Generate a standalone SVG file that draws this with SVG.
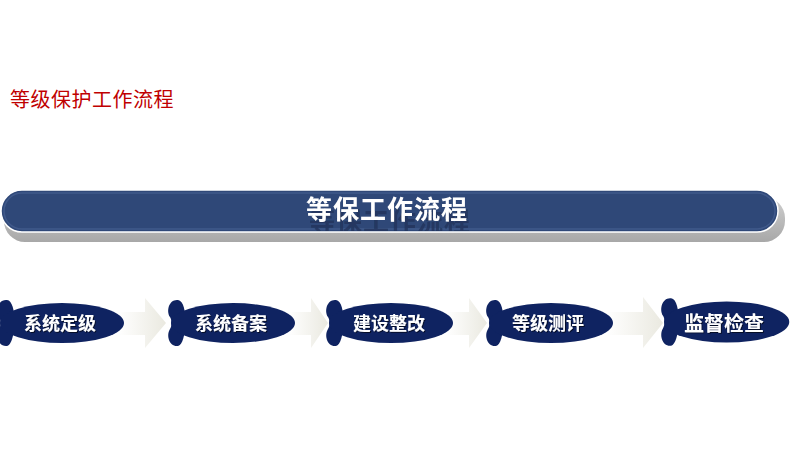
<svg xmlns="http://www.w3.org/2000/svg" xmlns:xlink="http://www.w3.org/1999/xlink" width="791" height="450" viewBox="0 0 791 450">
<defs>
<style>
.cjk{font-family:"Noto Sans CJK SC","Noto Sans",sans-serif;}
.node{fill:#0F2361;}
.ntext{font-family:"Noto Sans CJK SC","Noto Sans",sans-serif;font-weight:bold;font-size:18px;fill:#FFFFFF;text-anchor:middle;filter:url(#txtShadow);}
.arrow{fill:url(#arrowGrad);}
</style>
<linearGradient id="arrowGrad" x1="0" y1="0" x2="1" y2="0">
<stop offset="0" stop-color="#FFFFFF"/>
<stop offset="1" stop-color="#EAE9E0"/>
</linearGradient>
<linearGradient id="shadowGrad" x1="0" y1="0" x2="0" y2="1">
<stop offset="0" stop-color="#CFCFCF"/>
<stop offset="1" stop-color="#A8A8A8"/>
</linearGradient>
<filter id="txtShadow" x="-10%" y="-20%" width="120%" height="150%">
<feOffset in="SourceAlpha" dx="1" dy="1" result="off"/>
<feFlood flood-color="#000000" flood-opacity="0.6"/>
<feComposite in2="off" operator="in" result="sh"/>
<feMerge><feMergeNode in="sh"/><feMergeNode in="SourceGraphic"/></feMerge>
</filter>
<filter id="titleReflect" filterUnits="userSpaceOnUse" x="280" y="190" width="230" height="41">
<feOffset in="SourceAlpha" dx="3" dy="12" result="off"/>
<feFlood flood-color="#1F3359" flood-opacity="0.75"/>
<feComposite in2="off" operator="in" result="sh"/>
<feMerge><feMergeNode in="sh"/><feMergeNode in="SourceGraphic"/></feMerge>
</filter>
<g id="blob">
<path d="M11,-23 C2,-24 -1,-12 3,-6 C5,-3 5,3 3,6 C-1,12 2,24 11,23 C20,22 22,-22 11,-23 Z"/>
<ellipse cx="66" cy="0" rx="62" ry="20"/>
</g>
</defs>
<rect x="0" y="0" width="791" height="450" fill="#FFFFFF"/>

<g id="subtitle">
<text class="cjk" x="10" y="107" font-size="20" letter-spacing="0.5" fill="#C00000">等级保护工作流程</text>
</g>

<g id="banner">
<rect x="4" y="197" width="781" height="45" rx="21" fill="url(#shadowGrad)"/>
<rect x="1" y="190" width="777" height="42" rx="21" fill="#2F4878" stroke="#FFFFFF" stroke-width="1.5"/>
<rect x="4" y="193" width="771" height="36" rx="18" fill="none" stroke="#40598A" stroke-width="1.5"/>
<text class="cjk" x="387" y="219" font-size="26" font-weight="bold" fill="#FFFFFF" text-anchor="middle" letter-spacing="1" filter="url(#titleReflect)">等保工作流程</text>
</g>

<g id="connectors">
<path class="arrow" d="M118,312 L145,312 L145,298 L166,323 L145,348 L145,335 L118,335 Z"/>
<path class="arrow" d="M288,312 L311,312 L311,298 L328,323 L311,348 L311,335 L288,335 Z"/>
<path class="arrow" d="M446,312 L469,312 L469,298 L487,323 L469,348 L469,335 L446,335 Z"/>
<path class="arrow" d="M606,312 L643,312 L643,297 L663,323 L643,348 L643,335 L606,335 Z"/>
</g>

<g id="n1">
<use xlink:href="#blob" class="node" transform="translate(-4,323)"/>
<text class="ntext" x="60" y="330">系统定级</text>
</g>
<g id="n2">
<use xlink:href="#blob" class="node" transform="translate(167,323)"/>
<text class="ntext" x="231" y="330">系统备案</text>
</g>
<g id="n3">
<use xlink:href="#blob" class="node" transform="translate(325,323)"/>
<text class="ntext" x="389" y="330">建设整改</text>
</g>
<g id="n4">
<use xlink:href="#blob" class="node" transform="translate(485,323)"/>
<text class="ntext" x="548" y="330">等级测评</text>
</g>
<g id="n5">
<use xlink:href="#blob" class="node" transform="translate(660,322) scale(1.01,1.03)"/>
<text class="ntext" x="724" y="331" style="font-size:20px">监督检查</text>
</g>
</svg>
